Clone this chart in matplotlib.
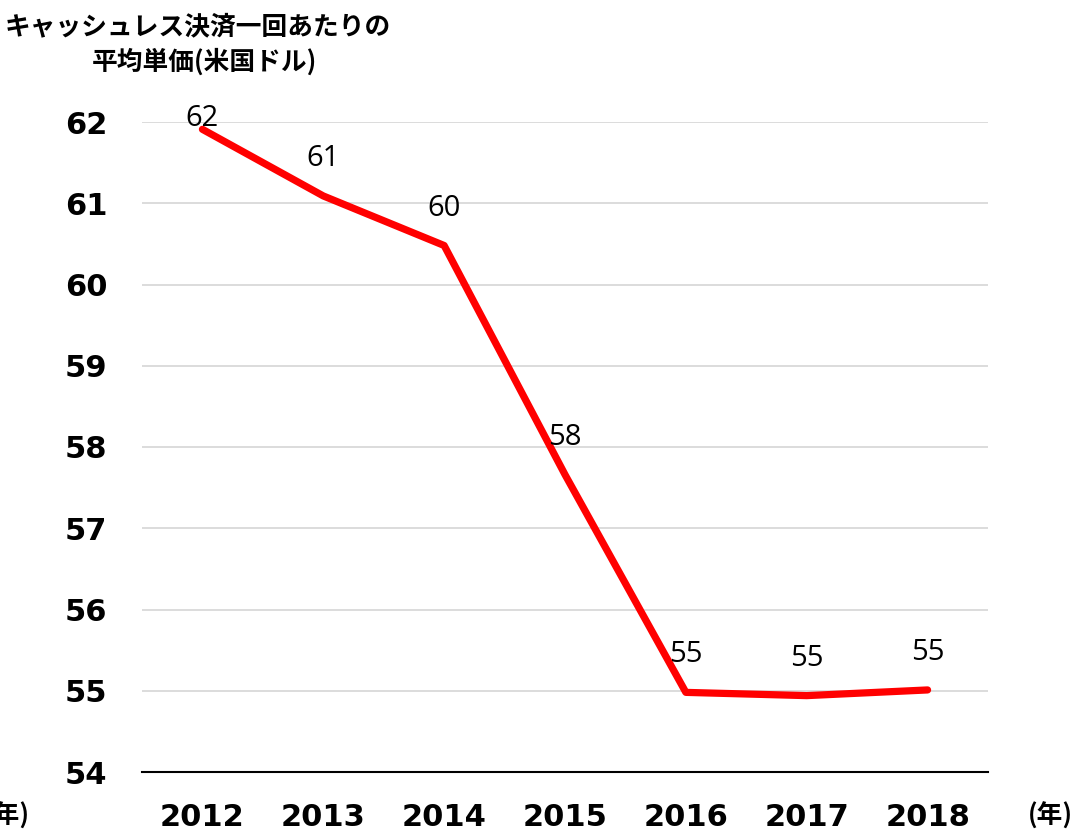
import matplotlib
matplotlib.use("Agg")
import matplotlib.pyplot as plt

years = ["2012", "2013", "2014", "2015", "2016", "2017", "2018"]
values = [61.91, 61.09, 60.48, 57.66, 54.98, 54.94, 55.01]
labels = ["62", "61", "60", "58", "55", "55", "55"]
yticks = [54, 55, 56, 57, 58, 59, 60, 61, 62]

W, H = 1076, 836
fig = plt.figure(figsize=(W / 100, H / 100), dpi=100)
ax = fig.add_axes([142 / W, 1 - 772 / H, (988 - 142) / W, (772 - 122) / H])

x = list(range(len(years)))
ax.plot(x, values, color="#FF0000", linewidth=5.2, solid_capstyle="round", solid_joinstyle="round", zorder=3, clip_on=False)

ax.set_xlim(-0.5, len(years) - 0.5)
ax.set_ylim(54, 62)
ax.set_yticks(yticks)
ax.set_xticks(x)
ax.set_xticklabels(years)
ax.grid(axis="y", color="#D9D9D9", linewidth=1.3, zorder=0)
ax.set_axisbelow(True)
for s in ["top", "left", "right"]:
    ax.spines[s].set_visible(False)
ax.spines["bottom"].set_color("#000000")
ax.spines["bottom"].set_linewidth(1.5)
ax.tick_params(axis="both", length=0)
ax.tick_params(axis="y", pad=25)
ax.tick_params(axis="x", pad=22)
for t in ax.get_yticklabels() + ax.get_xticklabels():
    t.set_fontfamily("DejaVu Sans")
    t.set_fontweight("bold")
    t.set_fontsize(22)

offsets = [8, 27, 27, 27, 27, 27, 27]
for xi, v, lab, off in zip(x, values, labels, offsets):
    ax.annotate(lab, (xi, v), xytext=(0, off), textcoords="offset points",
                ha="center", va="center", fontsize=21, family="Open Sans",
                color="#000000", zorder=4, annotation_clip=False)

cjk = ["Noto Sans CJK JP", "DejaVu Sans"]
fig.text(198 / W, 1 - 27 / H, "キャッシュレス決済一回あたりの", ha="center", va="center",
         fontsize=18.5, fontweight="bold", family=cjk)
fig.text(204 / W, 1 - 62 / H, "平均単価(米国ドル)", ha="center", va="center",
         fontsize=18.5, fontweight="bold", family=cjk)
fig.text(30 / W, 1 - 816 / H, "(年)", ha="right", va="center",
         fontsize=18.5, fontweight="bold", family=cjk)
fig.text(1073 / W, 1 - 816 / H, "(年)", ha="right", va="center",
         fontsize=18.5, fontweight="bold", family=cjk)

fig.savefig("out.png", dpi=100, facecolor="white")
